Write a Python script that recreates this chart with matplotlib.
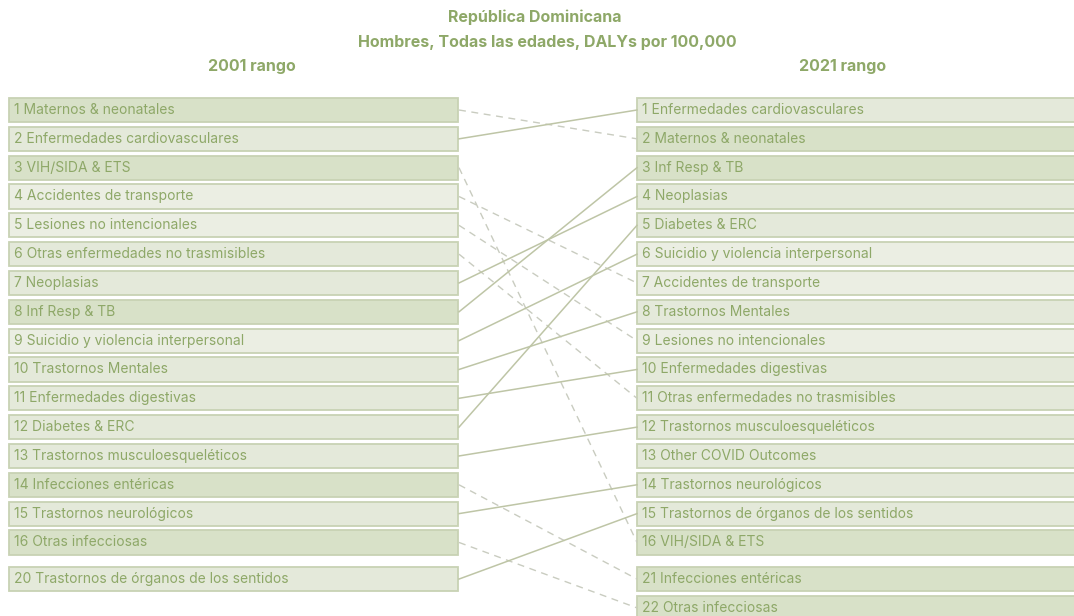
import matplotlib.pyplot as plt
from matplotlib.patches import Rectangle

plt.rcParams['font.family'] = ['Inter', 'DejaVu Sans']

# 2001 (izquierda) y 2021 (derecha)
causas_2001 = [
    "Maternos & neonatales", "Enfermedades cardiovasculares", "VIH/SIDA & ETS",
    "Accidentes de transporte", "Lesiones no intencionales",
    "Otras enfermedades no trasmisibles", "Neoplasias", "Inf Resp & TB",
    "Suicidio y violencia interpersonal", "Trastornos Mentales",
    "Enfermedades digestivas", "Diabetes & ERC", "Trastornos musculoesqueléticos",
    "Infecciones entéricas", "Trastornos neurológicos", "Otras infecciosas",
    "Trastornos de órganos de los sentidos",
]
rangos_2001 = [1, 2, 3, 4, 5, 6, 7, 8, 9, 10, 11, 12, 13, 14, 15, 16, 20]

causas_2021 = [
    "Enfermedades cardiovasculares", "Maternos & neonatales", "Inf Resp & TB",
    "Neoplasias", "Diabetes & ERC", "Suicidio y violencia interpersonal",
    "Accidentes de transporte", "Trastornos Mentales", "Lesiones no intencionales",
    "Enfermedades digestivas", "Otras enfermedades no trasmisibles",
    "Trastornos musculoesqueléticos", "Other COVID Outcomes",
    "Trastornos neurológicos", "Trastornos de órganos de los sentidos",
    "VIH/SIDA & ETS", "Infecciones entéricas", "Otras infecciosas",
]
rangos_2021 = [1, 2, 3, 4, 5, 6, 7, 8, 9, 10, 11, 12, 13, 14, 15, 16, 21, 22]

# grupo de causa: transmisibles / no transmisibles / lesiones
transmisibles = {"Maternos & neonatales", "VIH/SIDA & ETS", "Inf Resp & TB",
                 "Infecciones entéricas", "Otras infecciosas"}
lesiones = {"Accidentes de transporte", "Lesiones no intencionales",
            "Suicidio y violencia interpersonal"}

TOP_N = 16
GREEN = "#8ea868"
W, H = 1074, 616


def fila(rangos):
    # posición vertical: los 16 primeros seguidos, el resto tras un hueco
    out = []
    extra = 0
    for r in rangos:
        if r <= TOP_N:
            out.append(r - 1)
        else:
            out.append(TOP_N + 0.27 + extra)
            extra += 1
    return out


def relleno(c):
    if c in transmisibles:
        return "#d8e1c8"
    if c in lesiones:
        return "#ebeee3"
    return "#e4e9da"


y_2001 = fila(rangos_2001)
y_2021 = fila(rangos_2021)

fig = plt.figure(figsize=(W / 100, H / 100), dpi=100)
ax = fig.add_axes([0, 0, 1, 1])
ax.set_xlim(0, W)
ax.set_ylim((H - 110) / 28.83, -110 / 28.83)
ax.axis("off")

L0, L1 = 9, 458
R0, R1 = 637, 1080
h = 0.84

for c, r, y in zip(causas_2001, rangos_2001, y_2001):
    ax.add_patch(Rectangle((L0, y - h / 2), L1 - L0, h, facecolor=relleno(c),
                           edgecolor="#c8d2b4", lw=1.3))
    ax.text(L0 + 5, y, f"{r} {c}", va="center", ha="left", fontsize=10, color=GREEN)

for c, r, y in zip(causas_2021, rangos_2021, y_2021):
    ax.add_patch(Rectangle((R0, y - h / 2), R1 - R0, h, facecolor=relleno(c),
                           edgecolor="#c8d2b4", lw=1.3))
    ax.text(R0 + 5, y, f"{r} {c}", va="center", ha="left", fontsize=10, color=GREEN)

# líneas de conexión: sólida si sube o se mantiene, discontinua si baja
for c, r, y in zip(causas_2001, rangos_2001, y_2001):
    if c not in causas_2021:
        continue
    j = causas_2021.index(c)
    r2 = rangos_2021[j]
    if r2 <= r:
        ax.plot([L1 + 1, R0], [y, y_2021[j]], color="#bec5a6", lw=1.1)
    else:
        ax.plot([L1 + 1, R0], [y, y_2021[j]], color="#c9ccc0", lw=1.0,
                linestyle=(0, (5, 4)))

titulo = dict(ha="center", va="center", fontsize=11.5, fontweight="bold", color=GREEN)
fig.text(535 / W, 1 - 17 / H, "República Dominicana", **titulo)
fig.text(547 / W, 1 - 42 / H, "Hombres, Todas las edades, DALYs por 100,000", **titulo)
fig.text(252 / W, 1 - 67 / H, "2001 rango", **titulo)
fig.text(843 / W, 1 - 67 / H, "2021 rango", **titulo)

fig.savefig("out.png", dpi=100, facecolor="white")
